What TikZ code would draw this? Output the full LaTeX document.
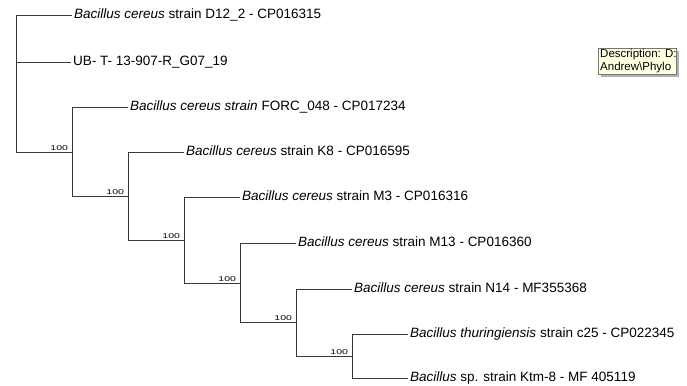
\documentclass[tikz,border=0pt]{standalone}
\usepackage{fontspec}
\setmainfont{Liberation Sans}
\definecolor{tipfill}{HTML}{FFFFE1}
\definecolor{tipline}{HTML}{767676}
\tikzset{
  leaf/.style={anchor=west, inner xsep=2bp, inner ysep=0pt, text height=0.716em, text depth=0pt, font=\fontsize{13.5bp}{16bp}\selectfont},
  boot/.style={anchor=south east, inner sep=0.8bp, font=\fontsize{7bp}{8bp}\selectfont},
  branch/.style={black!78, line width=0.9bp},
}
\begin{document}
\begin{tikzpicture}[x=1bp, y=-1bp]
\useasboundingbox (0,0) rectangle (687,385);
% 内部节点
\coordinate (root) at (16,83);
\coordinate (n2) at (72,152);
\coordinate (n3) at (128,196);
\coordinate (n4) at (184,240);
\coordinate (n5) at (240,283);
\coordinate (n6) at (296,322);
\coordinate (n7) at (352,356);
% 叶子
\node[leaf] (d12) at (72,15) {\textit{Bacillus cereus} strain D12\_2 - CP016315};
\node[leaf] (ub) at (71,62) {UB- T- 13-907-R\_G07\_19};
\node[leaf] (forc) at (128,107) {\textit{Bacillus cereus strain} FORC\_048 - CP017234};
\node[leaf] (k8) at (184,152) {\textit{Bacillus cereus} strain K8 - CP016595};
\node[leaf] (m3) at (240,197) {\textit{Bacillus cereus} strain M3 - CP016316};
\node[leaf] (m13) at (296,243) {\textit{Bacillus cereus} strain M13 - CP016360};
\node[leaf] (n14) at (352,289) {\textit{Bacillus cereus} strain N14 - MF355368};
\node[leaf] (c25) at (408,334) {\textit{Bacillus thuringiensis} strain c25 - CP022345};
\node[leaf] (ktm) at (408,378) {\textit{Bacillus} sp. strain Ktm-8 - MF 405119};
% 分支
\draw[branch] (root) |- (d12.west);
\draw[branch] (root) |- (ub.west);
\draw[branch] (root) |- (n2);
\draw[branch] (n2) |- (forc.west);
\draw[branch] (n2) |- (n3);
\draw[branch] (n3) |- (k8.west);
\draw[branch] (n3) |- (n4);
\draw[branch] (n4) |- (m3.west);
\draw[branch] (n4) |- (n5);
\draw[branch] (n5) |- (m13.west);
\draw[branch] (n5) |- (n6);
\draw[branch] (n6) |- (n14.west);
\draw[branch] (n6) |- (n7);
\draw[branch] (n7) |- (c25.west);
\draw[branch] (n7) |- (ktm.west);
% bootstrap
\node[boot] (b2) at ([xshift=-3bp]n2) {\scalebox{1.5}[1]{100}};
\node[boot] (b3) at ([xshift=-3bp]n3) {\scalebox{1.5}[1]{100}};
\node[boot] (b4) at ([xshift=-3bp]n4) {\scalebox{1.5}[1]{100}};
\node[boot] (b5) at ([xshift=-3bp]n5) {\scalebox{1.5}[1]{100}};
\node[boot] (b6) at ([xshift=-3bp]n6) {\scalebox{1.5}[1]{100}};
\node[boot] (b7) at ([xshift=-3bp]n7) {\scalebox{1.5}[1]{100}};
% 提示框
\fill[black!30] (601,51) rectangle (679,77);
\draw[tipline, fill=tipfill] (598,48) rectangle (676,74);
\begin{scope}
\clip (598,48) rectangle (676,74);
\node[anchor=north west, align=left, inner sep=0pt, font=\fontsize{11.5bp}{12.8bp}\selectfont] (desc) at (600,49) {Description: D:\textbackslash\\Andrew\textbackslash Phylo};
\end{scope}
\end{tikzpicture}
\end{document}
